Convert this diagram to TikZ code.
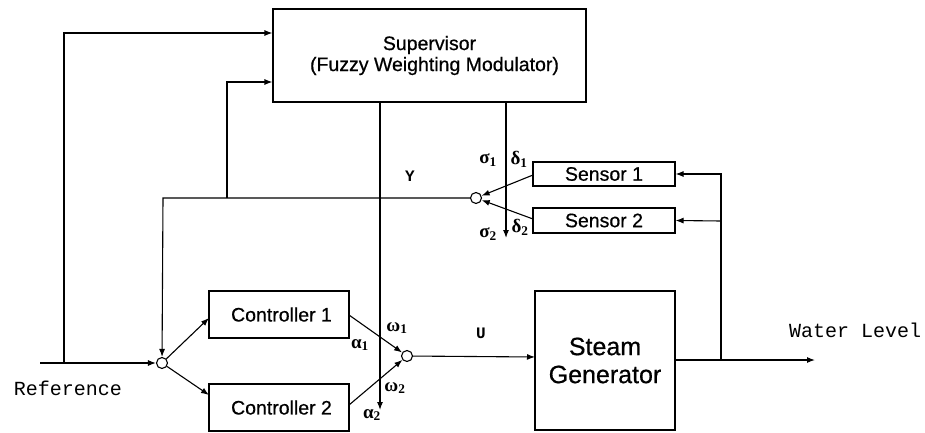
\documentclass[tikz,border=0pt]{standalone}
\usepackage{fontspec}
\setmainfont{Liberation Sans}
\newfontfamily\heavysans{Liberation Sans}[FakeBold=0.6]
\newfontfamily\monof{Liberation Mono}
\newfontfamily\serf{Liberation Serif}
\usetikzlibrary{arrows.meta,calc}
\newcommand{\glab}[2]{{\serf\bfseries\fontsize{19}{20}\selectfont #1\textsubscript{#2}}}
\begin{document}
\begin{tikzpicture}[x=1pt,y=-1pt,
  >={Latex[length=8pt,width=6pt]},
  every path/.style={line width=1.1pt},
  blk/.style={draw,line width=1.1pt,inner sep=0pt,align=center,font=\heavysans\fontsize{19.5}{22}\selectfont},
  sumc/.style={draw,circle,line width=1.1pt,minimum size=11pt,inner sep=0pt},
  lab/.style={inner sep=0pt},
  mono/.style={inner sep=0pt,font=\monof\fontsize{20}{21}\selectfont}]
\useasboundingbox (0,0) rectangle (925,433);
% blocks
\node[blk,minimum width=313pt,minimum height=93pt] (sup) at (429.5,55.5) {Supervisor\\[-1pt]\hspace*{10pt}(Fuzzy Weighting Modulator)};
\node[blk,minimum width=142pt,minimum height=24pt] (s1) at (604,174) {Sensor 1};
\node[blk,minimum width=142pt,minimum height=25pt] (s2) at (604,220.5) {Sensor 2};
\node[blk,minimum width=140pt,minimum height=47pt] (c1) at (279,314.5) {\hspace*{5pt}Controller 1};
\node[blk,minimum width=140pt,minimum height=47pt] (c2) at (279,407.5) {\hspace*{5pt}Controller 2};
\node[blk,minimum width=140pt,minimum height=139pt,font=\heavysans\fontsize{25}{28}\selectfont] (sg) at (605,360.5) {Steam\\Generator};
% summing junctions
\node[sumc] (sl) at (162,363) {};
\node[sumc] (sy) at (476,198) {};
\node[sumc] (sr) at (407,356) {};
% helper coordinates
\coordinate (ref) at (40,363);
\coordinate (rb) at (64,363);
\coordinate (rt) at (64,33);
\coordinate (yl) at (163,198);
\coordinate (yb) at (227,198);
\coordinate (yt) at (227,82);
\coordinate (c1in) at (209,318);
\coordinate (c2in) at (209,395);
\coordinate (v1t) at (380,102);
\coordinate (v1b) at (380,410);
\coordinate (v2t) at (506,102);
\coordinate (v2b) at (506,238);
\coordinate (sgin) at (535,357);
\coordinate (sgout) at (675,360);
\coordinate (fb) at (721,360);
\coordinate (out) at (815,360);
\coordinate (fb1) at (721,174);
\coordinate (fb2) at (721,221);
\coordinate (s1o) at (533,175);
\coordinate (s2o) at (533,219);
\coordinate (c1o) at (349,315);
\coordinate (c2o) at (349,405);
% connectors
\draw[->] (ref) -- (sl);
\draw[->] (rb) -- (rt) -- (rt -| sup.west);
\draw[->] (sy) -- (yl) -- (sl);
\draw[->] (yb) -- (yt) -- (yt -| sup.west);
\draw[->] (sl) -- (c1in);
\draw[->] (sl) -- (c2in);
\draw[->] (c1o) -- (sr);
\draw[->] (c2o) -- (sr);
\draw[->] (v1t) -- (v1b);
\draw[->] (v2t) -- (v2b);
\draw[->] (sr) -- (sgin);
\draw[->] (sgout) -- (out);
\draw[->] (fb) -- (fb1) -- (s1.east);
\draw[->] (fb2) -- (s2.east);
\draw[->] (s1o) -- (sy);
\draw[->] (s2o) -- (sy);
% labels
\node[lab,font=\monof\bfseries\fontsize{16}{17}\selectfont] (ylab) at (410,176) {Y};
\node[lab,font=\monof\bfseries\fontsize{16}{17}\selectfont] (ulab) at (481,333) {U};
\node[lab] (sig1) at (488,160) {\glab{σ}{1}};
\node[lab] (del1) at (519,159) {\glab{δ}{1}};
\node[lab] (sig2) at (488,234) {\glab{σ}{2}};
\node[lab] (del2) at (520,227) {\glab{δ}{2}};
\node[lab] (om1) at (397,328) {\glab{ω}{1}};
\node[lab] (al1) at (360,345) {\glab{α}{1}};
\node[lab] (om2) at (395,388) {\glab{ω}{2}};
\node[lab] (al2) at (372,415) {\glab{α}{2}};
\node[mono] (reflab) at (68,388) {Reference};
\node[mono] (wl) at (855,330) {Water Level};
\end{tikzpicture}
\end{document}
